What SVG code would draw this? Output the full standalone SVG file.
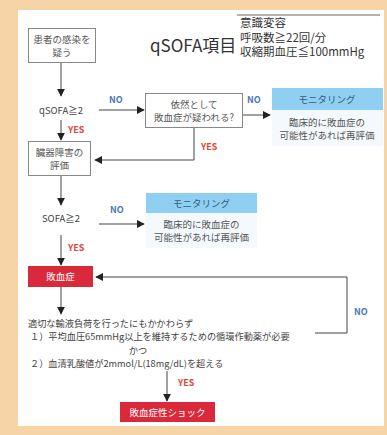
<svg xmlns="http://www.w3.org/2000/svg" width="387" height="435" viewBox="0 0 387 435">
<defs>
<marker id="ah" viewBox="0 0 10 10" refX="9" refY="5" markerWidth="8" markerHeight="8" markerUnits="userSpaceOnUse" orient="auto">
<path d="M0,0 L10,5 L0,10 Z" fill="#222"/>
</marker>
</defs>
<style>
text{font-family:"Noto Sans CJK JP","Noto Sans",sans-serif;}
.box{fill:#fff;stroke:#888;stroke-width:1;}
.lbl{font-size:9.5px;fill:#555;text-anchor:middle;}
.t{font-size:9.5px;fill:#444;}
.c{font-size:9.2px;fill:#444;}
.no{font-size:9px;font-weight:bold;fill:#4a78b8;}
.yes{font-size:9px;font-weight:bold;fill:#e0483e;}
.arr{fill:none;stroke:#444;stroke-width:1;marker-end:url(#ah);}
.red{fill:#d9293a;}
.wt{font-size:9.5px;fill:#fff;text-anchor:middle;}
.hdr{fill:#8fd0f2;}
.mon{fill:#f4f9fd;}
.ht{font-size:9.5px;fill:#3a5a78;text-anchor:middle;}
.crit{font-size:11.5px;fill:#333;}
</style>
<rect x="0" y="0" width="387" height="435" fill="#f6d4a8"/>
<rect x="18" y="10" width="366" height="416" fill="#fff"/>

<g id="title">
<text x="150" y="52" font-size="17" fill="#333">qSOFA項目</text>
<line x1="237" y1="15" x2="380" y2="15" stroke="#666" stroke-width="1"/>
<text class="crit" x="240" y="27">意識変容</text>
<text class="crit" x="240" y="41.5">呼吸数≧22回/分</text>
<text class="crit" x="240" y="56">収縮期血圧≦100mmHg</text>
</g>

<g id="n-infection">
<rect class="box" x="28.5" y="28.5" width="67" height="34"/>
<text class="lbl" x="62" y="43">患者の感染を</text>
<text class="lbl" x="62" y="56">疑う</text>
</g>

<g id="n-qsofa">
<text class="t" x="61" y="114" text-anchor="middle">qSOFA≧2</text>
</g>

<g id="n-still">
<rect class="box" x="145.5" y="93.5" width="97" height="34"/>
<text class="lbl" x="194" y="108">依然として</text>
<text class="lbl" x="194" y="121">敗血症が疑われる?</text>
</g>

<g id="n-mon1">
<rect class="mon" x="272" y="88" width="111" height="58"/>
<rect class="hdr" x="272" y="88" width="111" height="22"/>
<text class="ht" x="327" y="103">モニタリング</text>
<text class="lbl" x="327" y="126">臨床的に敗血症の</text>
<text class="lbl" x="327" y="139">可能性があれば再評価</text>
</g>

<g id="n-organ">
<rect class="box" x="28.5" y="141.5" width="62" height="34"/>
<text class="lbl" x="59.5" y="156">臓器障害の</text>
<text class="lbl" x="59.5" y="169">評価</text>
</g>

<g id="n-sofa">
<text class="t" x="61" y="222" text-anchor="middle">SOFA≧2</text>
</g>

<g id="n-mon2">
<rect class="mon" x="146" y="193" width="111" height="55"/>
<rect class="hdr" x="146" y="193" width="111" height="20"/>
<text class="ht" x="201.5" y="207">モニタリング</text>
<text class="lbl" x="201.5" y="228">臨床的に敗血症の</text>
<text class="lbl" x="201.5" y="241">可能性があれば再評価</text>
</g>

<g id="n-sepsis">
<rect class="red" x="28" y="266" width="65" height="21"/>
<text class="wt" x="60.5" y="280">敗血症</text>
</g>

<g id="n-criteria">
<text class="c" x="28" y="327">適切な輸液負荷を行ったにもかかわらず</text>
<text class="c" x="30" y="340.3">１）平均血圧65mmHg以上を維持するための循環作動薬が必要</text>
<text class="c" x="138" y="353.6" text-anchor="middle">かつ</text>
<text class="c" x="30" y="366.9">２）血清乳酸値が2mmol/L(18mg/dL)を超える</text>
</g>

<g id="n-shock">
<rect class="red" x="120" y="402" width="95" height="20"/>
<text class="wt" x="167.5" y="415.5">敗血症性ショック</text>
</g>

<g id="connectors">
<line class="arr" x1="61" y1="63" x2="61" y2="96"/>
<line class="arr" x1="99" y1="110" x2="144" y2="110"/>
<text class="no" x="109" y="103">NO</text>
<line class="arr" x1="61" y1="120" x2="61" y2="140"/>
<text class="yes" x="68" y="133">YES</text>
<polyline class="arr" points="194,128 194,160 95,160"/>
<text class="yes" x="201" y="150">YES</text>
<line class="arr" x1="243" y1="115" x2="270" y2="115"/>
<text class="no" x="247" y="103">NO</text>
<line class="arr" x1="61" y1="176" x2="61" y2="205"/>
<line class="arr" x1="99" y1="224" x2="144" y2="224"/>
<text class="no" x="110" y="213">NO</text>
<line class="arr" x1="61" y1="235" x2="61" y2="265"/>
<text class="yes" x="68" y="251">YES</text>
<polyline class="arr" points="315,333 347,333 347,277 96,277"/>
<text class="no" x="354" y="315">NO</text>
<line class="arr" x1="61" y1="287" x2="61" y2="314"/>
<line class="arr" x1="167" y1="371" x2="167" y2="401"/>
<text class="yes" x="178" y="386">YES</text>
</g>
</svg>
